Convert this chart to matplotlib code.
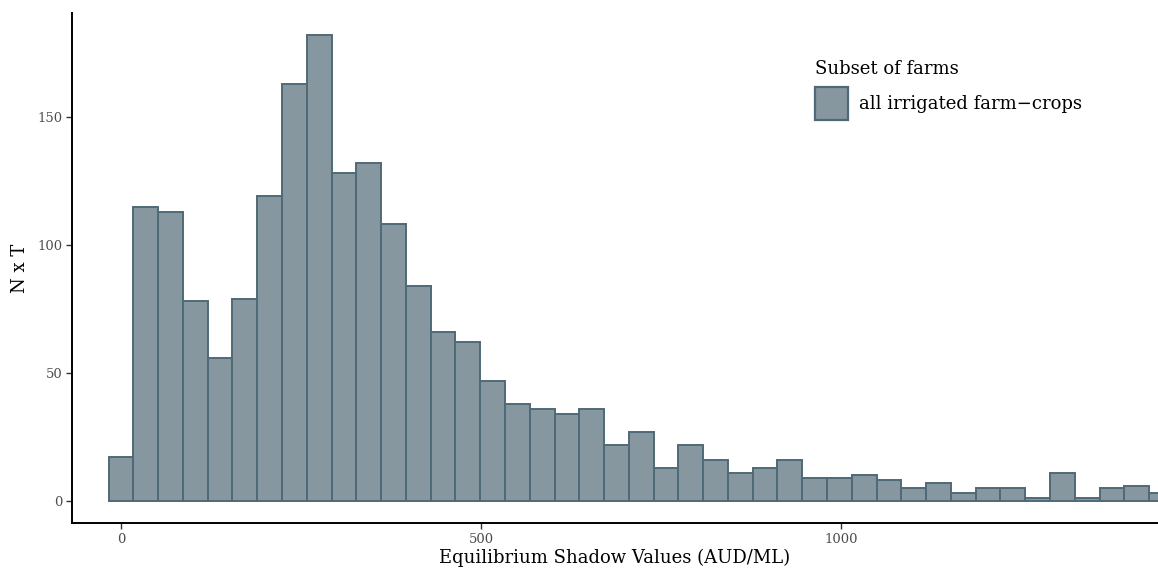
import numpy as np
import matplotlib
matplotlib.use("Agg")
import matplotlib.pyplot as plt
from matplotlib.patches import Patch

# 直方图各箱的计数
counts = [17, 115, 113, 78, 56, 79, 119, 163, 182, 128, 132, 108, 84, 66, 62,
          47, 38, 36, 34, 36, 22, 27, 13, 22, 16, 11, 13, 16, 9, 9, 10, 8,
          5, 7, 3, 5, 5, 1, 11, 1, 5, 6, 3]
bin_start = -17.2
bin_width = 34.4
x_ticks = [0, 500, 1000]
y_ticks = [0, 50, 100, 150]
series_name = "all irrigated farm\u2212crops"
legend_title = "Subset of farms"

edges = bin_start + bin_width * np.arange(len(counts) + 1)

plt.rcParams['font.family'] = ['DejaVu Serif']

fig = plt.figure(figsize=(11.58, 5.77), dpi=100)
ax = fig.add_axes([0.0622, 0.0936, 0.9378, 0.884])

fill_c = "#86979F"
edge_c = "#4F6976"
ax.bar(edges[:-1], counts, width=bin_width, align="edge",
       color=fill_c, edgecolor=edge_c, linewidth=1.4)

ax.set_xlim(-68, 1440)
ax.set_ylim(-8.6, 190.6)
ax.set_xticks(x_ticks)
ax.set_yticks(y_ticks)

for s in ["top", "right"]:
    ax.spines[s].set_visible(False)
for s in ["left", "bottom"]:
    ax.spines[s].set_linewidth(1.4)
    ax.spines[s].set_color("black")

ax.tick_params(axis="both", length=4, width=1.0, color="#333333",
               labelcolor="#4D4D4D", labelsize=9.5, pad=3)

ax.set_xlabel("Equilibrium Shadow Values (AUD/ML)", fontsize=13, labelpad=2)
ax.set_ylabel("N x T", fontsize=13, labelpad=6)

# 图例：方块约 33px
handle = Patch(facecolor=fill_c, edgecolor=edge_c, linewidth=1.6)
leg = fig.legend([handle], [series_name], title=legend_title,
                 loc="upper left", bbox_to_anchor=(0.7036, 0.896),
                 bbox_transform=fig.transFigure,
                 frameon=False, fontsize=13, title_fontsize=13,
                 handlelength=1.83, handleheight=2.44, handletextpad=0.6,
                 borderaxespad=0, borderpad=0)
leg._legend_box.align = "left"

fig.savefig("out.png", dpi=100)
